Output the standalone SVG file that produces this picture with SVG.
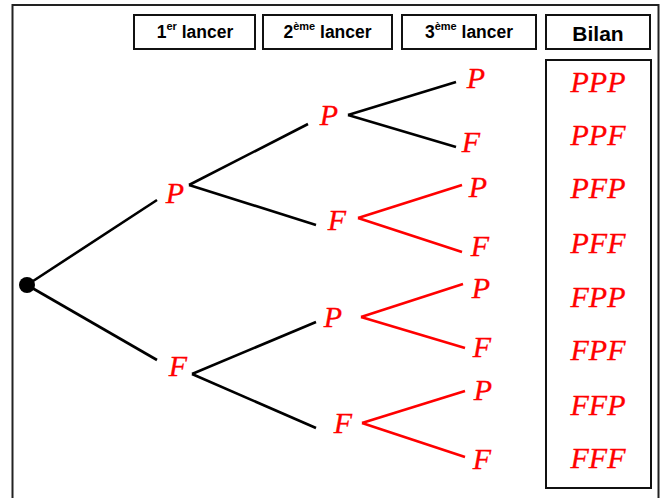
<svg xmlns="http://www.w3.org/2000/svg" width="664" height="498" viewBox="0 0 664 498">
<style>
.frame{fill:none;stroke:#222;stroke-width:2}
.hbox{fill:#fff;stroke:#111;stroke-width:2}
.htxt{font-family:"Liberation Sans",Arial,sans-serif;font-weight:bold;font-size:17.5px;fill:#000;text-anchor:middle}
.sup{font-size:11px}
.lbl{font-family:"Liberation Serif","Times New Roman",serif;font-style:italic;font-size:30px;fill:#ff0000;stroke:#ff0000;stroke-width:0.3;text-anchor:middle}
.blk{stroke:#000;stroke-width:2.6;fill:none}
.red{stroke:#ff0000;stroke-width:2.6;fill:none}
</style>
<rect x="0" y="0" width="664" height="498" fill="#fff"/>
<rect class="frame" x="12.5" y="5" width="646" height="500"/>
<g id="headers">
<g id="h1"><rect class="hbox" x="134" y="15" width="121" height="34"/><text class="htxt" x="195" y="38">1<tspan class="sup" dy="-8">er</tspan><tspan dy="8"> lancer</tspan></text></g>
<g id="h2"><rect class="hbox" x="263" y="15" width="129" height="34"/><text class="htxt" x="327.5" y="38">2<tspan class="sup" dy="-8">ème</tspan><tspan dy="8"> lancer</tspan></text></g>
<g id="h3"><rect class="hbox" x="402" y="15" width="134" height="34"/><text class="htxt" x="469" y="38">3<tspan class="sup" dy="-8">ème</tspan><tspan dy="8"> lancer</tspan></text></g>
<g id="h4"><rect class="hbox" x="546" y="15" width="104" height="34"/><text class="htxt" x="598" y="41" style="font-size:21px">Bilan</text></g>
</g>
<g id="connectors">
<line class="blk" x1="27" y1="285" x2="157" y2="200"/>
<line class="blk" x1="27" y1="285" x2="157" y2="360"/>
<line class="blk" x1="189" y1="185" x2="308" y2="124"/>
<line class="blk" x1="189" y1="185" x2="316" y2="225"/>
<line class="blk" x1="348" y1="115" x2="456" y2="82"/>
<line class="blk" x1="348" y1="115" x2="456" y2="147"/>
<line class="red" x1="358" y1="218" x2="462" y2="185"/>
<line class="red" x1="358" y1="218" x2="462" y2="252"/>
<line class="blk" x1="192" y1="374" x2="316" y2="322"/>
<line class="blk" x1="192" y1="374" x2="316" y2="428"/>
<line class="red" x1="361" y1="317" x2="463" y2="284"/>
<line class="red" x1="361" y1="317" x2="465" y2="348"/>
<line class="red" x1="362" y1="423" x2="465" y2="391"/>
<line class="red" x1="362" y1="423" x2="465" y2="457"/>
</g>
<g id="root"><circle cx="27" cy="285" r="8" fill="#000"/></g>
<g id="n1P"><text class="lbl" x="175" y="203">P</text></g>
<g id="n1F"><text class="lbl" x="178" y="376">F</text></g>
<g id="n2PP"><text class="lbl" x="329" y="125">P</text></g>
<g id="n2PF"><text class="lbl" x="337" y="230">F</text></g>
<g id="n2FP"><text class="lbl" x="333" y="327">P</text></g>
<g id="n2FF"><text class="lbl" x="343" y="433">F</text></g>
<g id="n3PPP"><text class="lbl" x="476" y="88">P</text></g>
<g id="n3PPF"><text class="lbl" x="471" y="152">F</text></g>
<g id="n3PFP"><text class="lbl" x="478" y="197">P</text></g>
<g id="n3PFF"><text class="lbl" x="480" y="256">F</text></g>
<g id="n3FPP"><text class="lbl" x="481" y="298">P</text></g>
<g id="n3FPF"><text class="lbl" x="482" y="357">F</text></g>
<g id="n3FFP"><text class="lbl" x="483" y="400">P</text></g>
<g id="n3FFF"><text class="lbl" x="482" y="469">F</text></g>
<g id="bilan">
<rect class="hbox" x="546" y="60" width="105" height="428"/>
<text class="lbl" x="598" y="92">PPP</text>
<text class="lbl" x="598" y="145">PPF</text>
<text class="lbl" x="598" y="198">PFP</text>
<text class="lbl" x="598" y="253">PFF</text>
<text class="lbl" x="598" y="307">FPP</text>
<text class="lbl" x="598" y="360">FPF</text>
<text class="lbl" x="598" y="415">FFP</text>
<text class="lbl" x="598" y="468">FFF</text>
</g>
</svg>
